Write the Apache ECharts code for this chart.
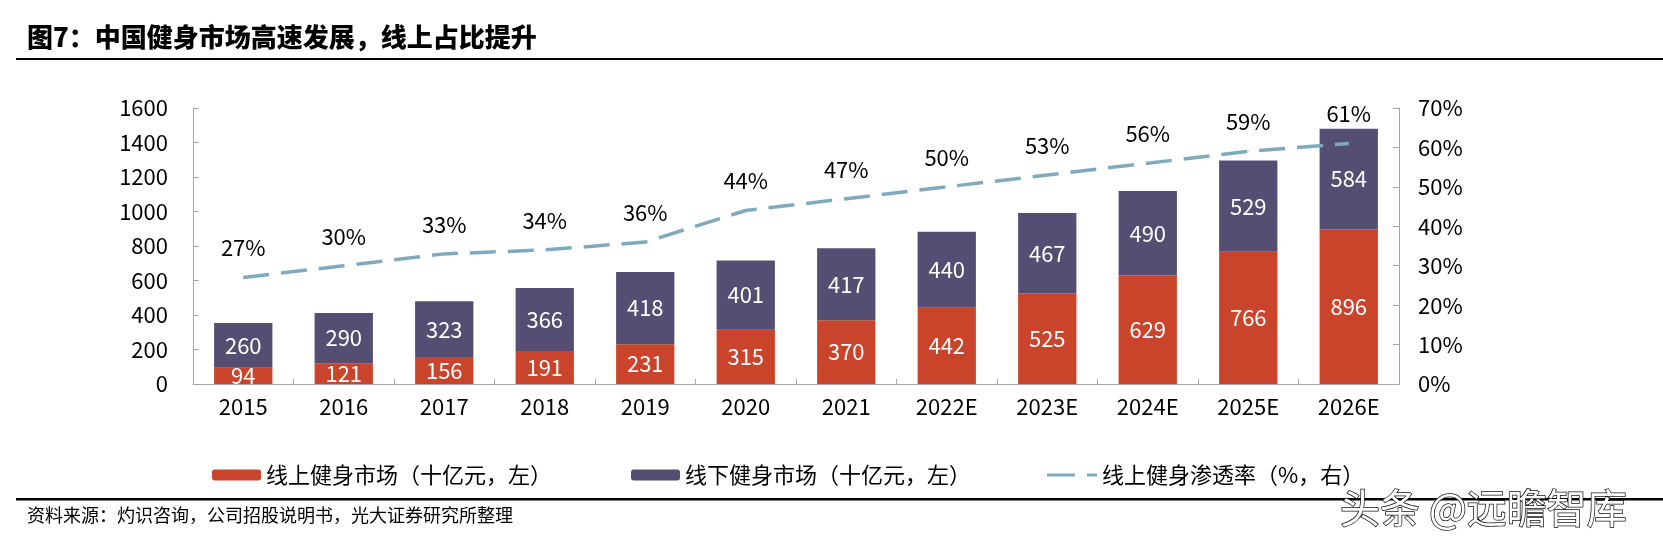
<!DOCTYPE html>
<html>
<head>
<meta charset="utf-8">
<script src="https://cdn.jsdelivr.net/npm/echarts@6/dist/echarts.min.js"></script>
<style>
html,body{margin:0;padding:0;background:#fff;}
#chart{width:1663px;height:546px;}
</style>
</head>
<body>
<div id="chart"></div>
<script>
const categories = ['2015','2016','2017','2018','2019','2020','2021','2022E','2023E','2024E','2025E','2026E'];
const onlineMarket = [94,121,156,191,231,315,370,442,525,629,766,896];
const offlineMarket = [260,290,323,366,418,401,417,440,467,490,529,584];
const onlineRate = [27,30,33,34,36,44,47,50,53,56,59,61];
const seriesNames = ['线上健身市场（十亿元，左）','线下健身市场（十亿元，左）','线上健身渗透率（%，右）'];
const titleText = '图7：中国健身市场高速发展，线上占比提升';
const sourceText = '资料来源：灼识咨询，公司招股说明书，光大证券研究所整理';
const watermarkText = '头条 @远瞻智库';

const FONT = '"Noto Sans CJK SC","Microsoft YaHei",sans-serif';
const RED = '#C9442A', PURPLE = '#534E72', TEAL = '#7FAABD';
const chart = echarts.init(document.getElementById('chart'));
const legendText = {fontSize:22,color:'#000',fontFamily:FONT};
chart.setOption({
  animation:false,
  textStyle:{fontFamily:FONT},
  grid:{left:193,right:264,top:108,bottom:162},
  legend:[
    {data:[seriesNames[0]],left:207,top:459,itemWidth:49,itemHeight:11,itemGap:6,textStyle:legendText},
    {data:[seriesNames[1]],left:626,top:459,itemWidth:49,itemHeight:11,textStyle:legendText},
    {data:[{name:seriesNames[2],icon:'path://M0,0H28V3H0Z M40,0H50V3H40Z'}],left:1042,top:459,itemWidth:50,itemHeight:3,textStyle:legendText}
  ],
  xAxis:{type:'category',data:categories,
    axisLine:{lineStyle:{color:'#A6A6A6',width:1}},
    axisTick:{show:true,inside:true,length:5,lineStyle:{color:'#A6A6A6'}},
    axisLabel:{fontSize:22,color:'#000',margin:12,fontFamily:FONT}},
  yAxis:[
    {type:'value',min:0,max:1600,interval:200,splitLine:{show:false},
     axisLine:{show:true,lineStyle:{color:'#A6A6A6'}},axisTick:{show:true,inside:true,length:6,lineStyle:{color:'#A6A6A6'}},
     axisLabel:{fontSize:22,color:'#000',margin:25,fontFamily:FONT,formatter:v=>String(v)}},
    {type:'value',min:0,max:70,interval:10,splitLine:{show:false},
     axisLine:{show:true,lineStyle:{color:'#A6A6A6'}},axisTick:{show:true,inside:true,length:6,lineStyle:{color:'#A6A6A6'}},
     axisLabel:{fontSize:22,color:'#000',margin:19,formatter:'{value}%',fontFamily:FONT}}
  ],
  series:[
    {name:seriesNames[0],type:'bar',stack:'m',data:onlineMarket,barWidth:'58%',itemStyle:{color:RED},
     label:{show:true,position:'inside',color:'#fff',fontSize:22,fontFamily:FONT}},
    {name:seriesNames[1],type:'bar',stack:'m',data:offlineMarket,barWidth:'58%',itemStyle:{color:PURPLE},
     label:{show:true,position:'inside',color:'#fff',fontSize:22,fontFamily:FONT}},
    {name:seriesNames[2],type:'line',yAxisIndex:1,data:onlineRate,symbol:'circle',symbolSize:1,showSymbol:true,
     lineStyle:{color:TEAL,width:3.5,type:[26,12]},itemStyle:{color:TEAL},
     label:{show:true,position:'top',distance:18,formatter:'{c}%',color:'#000',fontSize:22,fontFamily:FONT}}
  ],
  graphic:[
    {type:'text',x:27,y:37,style:{text:titleText,font:'900 26px '+FONT,fill:'#000',verticalAlign:'middle'}},
    {type:'rect',shape:{x:16,y:58,width:1647,height:2},style:{fill:'#000'}},
    {type:'rect',shape:{x:16,y:498,width:1647,height:2.5},style:{fill:'#000'}},
    {type:'text',x:27,y:515,style:{text:sourceText,font:'18px '+FONT,fill:'#000',verticalAlign:'middle'}},
    {type:'text',x:1340,y:508,z:100,style:{text:watermarkText,font:'40px '+FONT,fill:'#fff',stroke:'#111',lineWidth:1.5,verticalAlign:'middle'}}
  ]
});
</script>
</body>
</html>
